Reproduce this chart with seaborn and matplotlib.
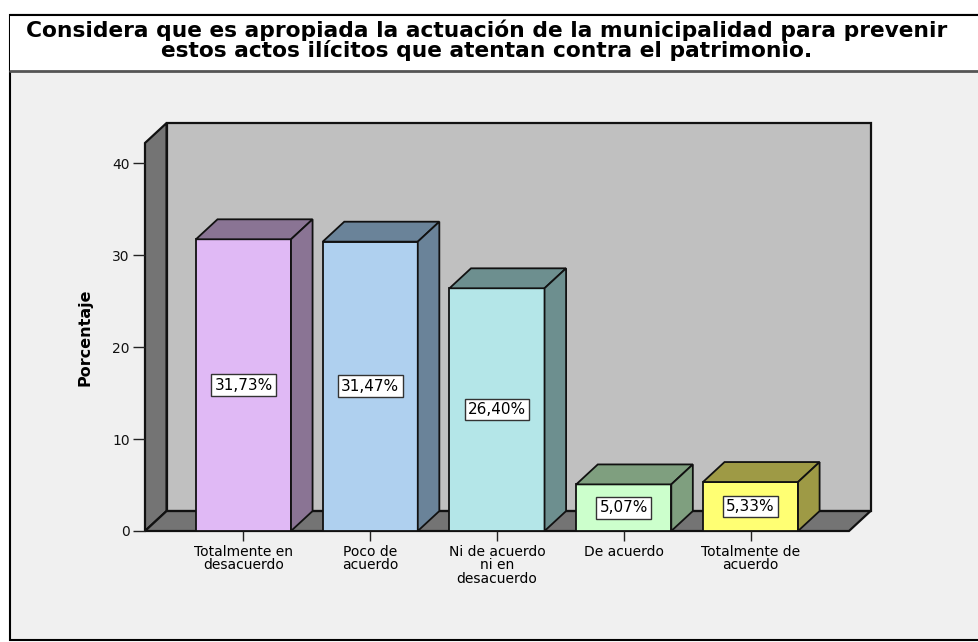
import matplotlib
matplotlib.use("Agg")
import matplotlib.pyplot as plt
from matplotlib.patches import Polygon, Rectangle
import seaborn as sns

# data
categories = ["Totalmente en desacuerdo", "Poco de acuerdo",
              "Ni de acuerdo ni en desacuerdo", "De acuerdo", "Totalmente de acuerdo"]
tick_labels = ["Totalmente en\ndesacuerdo", "Poco de\nacuerdo",
               "Ni de acuerdo\nni en\ndesacuerdo", "De acuerdo", "Totalmente de\nacuerdo"]
percent = [31.73, 31.47, 26.40, 5.07, 5.33]
y_ticks = [0, 10, 20, 30, 40]

front_colors = ["#e0b9f5", "#afd0ef", "#b4e6e8", "#ccffcc", "#ffff73"]
shade_colors = ["#8a7494", "#6a8399", "#6d8f8f", "#7f9f7f", "#9e9a45"]

title = ("Considera que es apropiada la actuación de la municipalidad para prevenir\n"
         "estos actos ilícitos que atentan contra el patrimonio.")

W, H = 979, 642
sns.set_style("white")
plt.rcParams["font.family"] = ["DejaVu Sans"]

fig = plt.figure(figsize=(W / 100, H / 100), dpi=100, facecolor="white")


def fx(x):
    return x / W


def fy(y):
    return 1 - y / H


# outer frame and title band (kept behind the axes)
fig.patches.append(Rectangle((fx(10), fy(640)), fx(980) - fx(10), fy(15) - fy(640),
                             transform=fig.transFigure, facecolor="#f0f0f0",
                             edgecolor="black", linewidth=1.5, zorder=-10))
fig.patches.append(Rectangle((fx(10), fy(71)), fx(980) - fx(10), fy(15) - fy(71),
                             transform=fig.transFigure, facecolor="white",
                             edgecolor="none", zorder=-9))
fig.lines.append(plt.Line2D([fx(10), 1], [fy(71), fy(71)], transform=fig.transFigure,
                            color="#555555", linewidth=2, zorder=-8))
fig.lines.append(plt.Line2D([fx(10), 1], [fy(15), fy(15)], transform=fig.transFigure,
                            color="black", linewidth=1.5, zorder=-8))
fig.text(fx(487), fy(40), title, ha="center", va="center", fontsize=15.7,
         fontweight="bold", linespacing=0.96, multialignment="center", color="black")

ax = fig.add_axes([fx(145), fy(531), fx(849) - fx(145), fy(143) - fy(531)])
ax.set_facecolor("none")
ax.set_zorder(2)

xl, xr = -0.777, 4.777
ytop = 42.2
dx, dy = 0.17, 2.17
bw = 0.75

# walls and floor
ax.add_patch(Polygon([(xl + dx, dy), (xr + dx, dy), (xr + dx, ytop + dy), (xl + dx, ytop + dy)],
                     closed=True, facecolor="#c0c0c0", edgecolor="#111111", linewidth=1.6,
                     clip_on=False, zorder=0))
ax.add_patch(Polygon([(xl, 0), (xl + dx, dy), (xl + dx, ytop + dy), (xl, ytop)],
                     closed=True, facecolor="#747474", edgecolor="#111111", linewidth=1.6,
                     clip_on=False, zorder=0.2))
ax.add_patch(Polygon([(xl, 0), (xr, 0), (xr + dx, dy), (xl + dx, dy)],
                     closed=True, facecolor="#747474", edgecolor="#111111", linewidth=1.6,
                     clip_on=False, zorder=0.2))

sns.barplot(x=categories, y=percent, hue=categories, palette=front_colors, legend=False,
            width=bw, saturation=1, edgecolor="#111111", linewidth=1.3, ax=ax, zorder=2)

for i, (v, c) in enumerate(zip(percent, shade_colors)):
    x0, x1 = i - bw / 2, i + bw / 2
    ax.add_patch(Polygon([(x0, v), (x1, v), (x1 + dx, v + dy), (x0 + dx, v + dy)],
                         closed=True, facecolor=c, edgecolor="#111111", linewidth=1.3,
                         clip_on=False, zorder=2))
    ax.add_patch(Polygon([(x1, 0), (x1 + dx, dy), (x1 + dx, v + dy), (x1, v)],
                         closed=True, facecolor=c, edgecolor="#111111", linewidth=1.3,
                         clip_on=False, zorder=2))
    label = f"{v:.2f}".replace(".", ",") + "%"
    ax.text(i, v / 2, label, ha="center", va="center", fontsize=11, zorder=3, color="black",
            bbox=dict(boxstyle="square,pad=0.22", facecolor="white",
                      edgecolor="#333333", linewidth=1))

ax.set_xlim(xl, xr)
ax.set_ylim(0, ytop)
ax.set_yticks(y_ticks)
ax.set_yticklabels([str(t) for t in y_ticks], fontsize=10, color="#111111")
ax.set_xticks(range(len(categories)))
ax.set_xticklabels(tick_labels, fontsize=10, linespacing=0.95, color="black")
ax.tick_params(axis="y", direction="out", length=9, width=1, color="#222222", pad=2, left=True)
ax.tick_params(axis="x", direction="out", length=7, width=1, color="#222222", pad=3, bottom=True)
for s in ax.spines.values():
    s.set_visible(False)
ax.set_xlabel("")
ax.set_ylabel("Porcentaje", fontsize=11.5, fontweight="bold", labelpad=14, color="black")

fig.savefig("out.png", dpi=100, facecolor="white")
